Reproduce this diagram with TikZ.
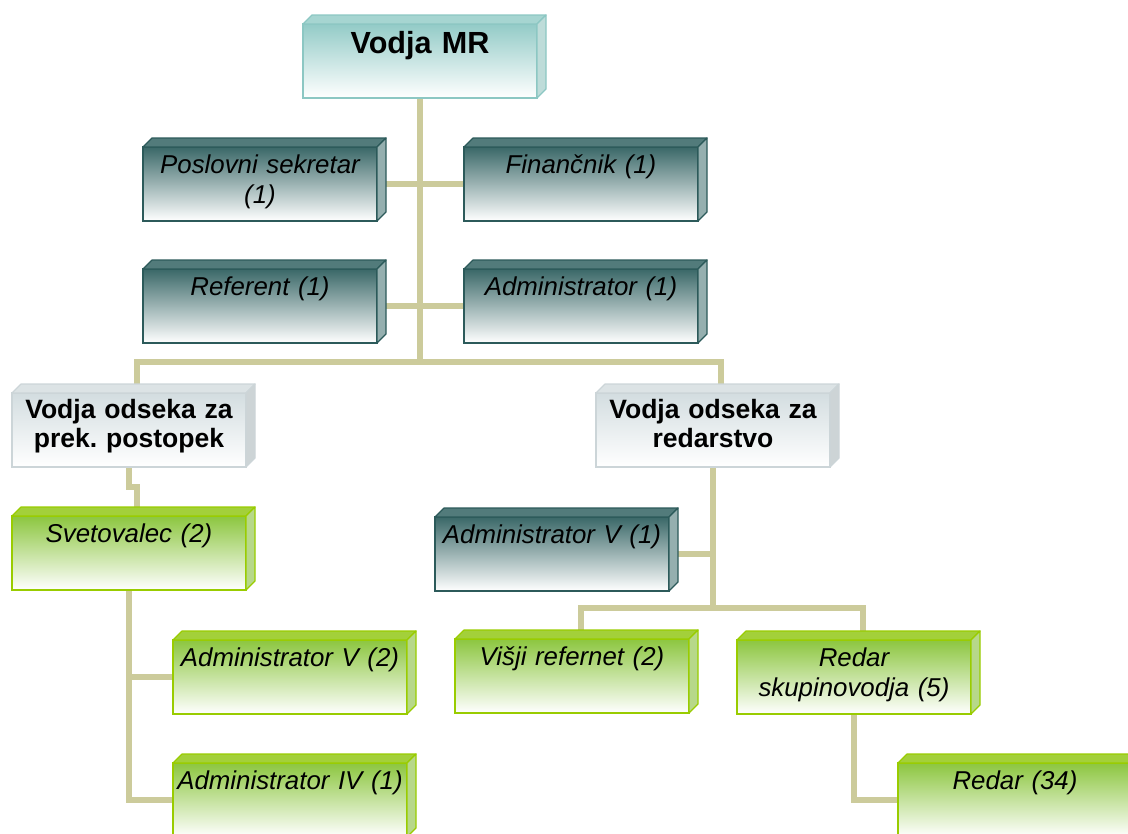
\documentclass[tikz,border=0pt]{standalone}
\usepackage{fontspec}
\setmainfont{Liberation Sans}
\usepackage{xcolor}
\definecolor{trunk}{HTML}{CCCB9B}
\definecolor{mrfill}{HTML}{93CBC7}
\definecolor{mredge}{HTML}{8CC7C3}
\definecolor{mrtop}{HTML}{A6D5D1}
\definecolor{mrside}{HTML}{BEDCD9}
\definecolor{slate}{HTML}{3A6868}
\definecolor{slateedge}{HTML}{2C5A5A}
\definecolor{slatetop}{HTML}{527B7B}
\definecolor{slateside}{HTML}{95AFAF}
\definecolor{mist}{HTML}{D3DDE0}
\definecolor{mistedge}{HTML}{CCD5D8}
\definecolor{misttop}{HTML}{DCE3E5}
\definecolor{mistside}{HTML}{CDD4D6}
\definecolor{lime}{HTML}{8CC63F}
\definecolor{limeedge}{HTML}{99CC00}
\definecolor{limetop}{HTML}{A3D03A}
\definecolor{limeside}{HTML}{B7D88A}
\usepackage{tikz}
\usetikzlibrary{positioning,calc,backgrounds}
\newdimen\pxu \pxu=0.02cm
% top and right faces of a card
\newcommand\faces[4]{%
  \filldraw[fill=#2, draw=#4, line width=0.7pt, line join=round] (#1.north west) -- ++(9,-9) -- ($(#1.north east)+(9,-9)$) -- (#1.north east) -- cycle;
  \filldraw[fill=#3, draw=#4, line width=0.7pt, line join=round] (#1.north east) -- ++(9,-9) -- ($(#1.south east)+(9,-9)$) -- (#1.south east) -- cycle;}
\tikzset{
  card/.style={anchor=north west, inner sep=0pt, outer sep=0pt, line width=1.1pt, align=center,
    text width=234\pxu, text height=26\pxu, text depth=48\pxu,
    font=\fontsize{14.7pt}{17.6pt}\selectfont\itshape},
  chief/.style={card, draw=mredge, top color=mrfill, bottom color=white, text height=29\pxu, text depth=45\pxu,
    font=\fontsize{17.4pt}{20pt}\selectfont\bfseries},
  head/.style={card, draw=mistedge, top color=mist, bottom color=white, text height=25\pxu, text depth=49\pxu,
    font=\fontsize{15.1pt}{17pt}\selectfont\bfseries},
  staff/.style={card, draw=slateedge, top color=slate, bottom color=white},
  crew/.style={card, draw=limeedge, top color=lime, bottom color=white},
  link/.style={draw=trunk, line width=3.2pt},
}

\begin{document}
\begin{tikzpicture}[x=0.02cm, y=-0.02cm]
  \path[use as bounding box, clip] (0,0) rectangle (1128,833);
  \node[chief] (mr) at (303,24) {Vodja MR};
  \node[staff] (sek) at (143,147) {Poslovni sekretar\\(1)};
  \node[staff, right=87\pxu of sek] (fin) {Finančnik (1)};
  \node[staff, below=48\pxu of sek] (ref) {Referent (1)};
  \node[staff, right=87\pxu of ref] (adm) {Administrator (1)};
  \node[head] (pp) at (12,393) {Vodja odseka za\\prek.\ postopek};
  \node[head] (red) at (596,393) {Vodja odseka za\\redarstvo};
  \node[crew] (svet) at (12,516) {Svetovalec (2)};
  \node[crew] (admv2) at (173,640) {Administrator V (2)};
  \node[crew] (admiv) at (173,763) {Administrator IV (1)};
  \node[staff] (admv1) at (435,517) {Administrator V (1)};
  \node[crew] (visji) at (455,639) {Višji refernet (2)};
  \node[crew] (skup) at (737,640) {Redar\\skupinovodja (5)};
  \node[crew] (redar) at (898,763) {Redar (34)};
  \coordinate (bus) at ($(mr.south)+(0,264)$);
  \coordinate (bus2) at ($(red.south)+(0,141)$);
  \faces{mr}{mrtop}{mrside}{mredge}
  \foreach \n in {sek,fin,ref,adm,admv1} {\faces{\n}{slatetop}{slateside}{slateedge}}
  \foreach \n in {pp,red} {\faces{\n}{misttop}{mistside}{mistedge}}
  \foreach \n in {svet,admv2,admiv,visji,skup,redar} {\faces{\n}{limetop}{limeside}{limeedge}}
  \begin{scope}[on background layer]
    \draw[link] (mr.south) -- (bus);
    \draw[link] (sek) -- (fin);
    \draw[link] (ref) -- (adm);
    \draw[link] ($(pp.north)+(8,0)$) |- (bus) -| ($(red.north)+(8,0)$);
    \draw[link] (pp.south) -- ++(0,20) -| ($(svet.north)+(8,0)$);
    \draw[link] (svet.south) |- (admiv.west);
    \draw[link] (svet.south |- admv2.west) -- (admv2.west);
    \draw[link] (red.south) -- (bus2);
    \draw[link] (red.south |- admv1.east) -- (admv1.east);
    \draw[link] ($(visji.north)+(9,0)$) |- (bus2) -| ($(skup.north)+(9,0)$);
    \draw[link] (skup.south) |- (redar.west);
  \end{scope}
\end{tikzpicture}
\end{document}
